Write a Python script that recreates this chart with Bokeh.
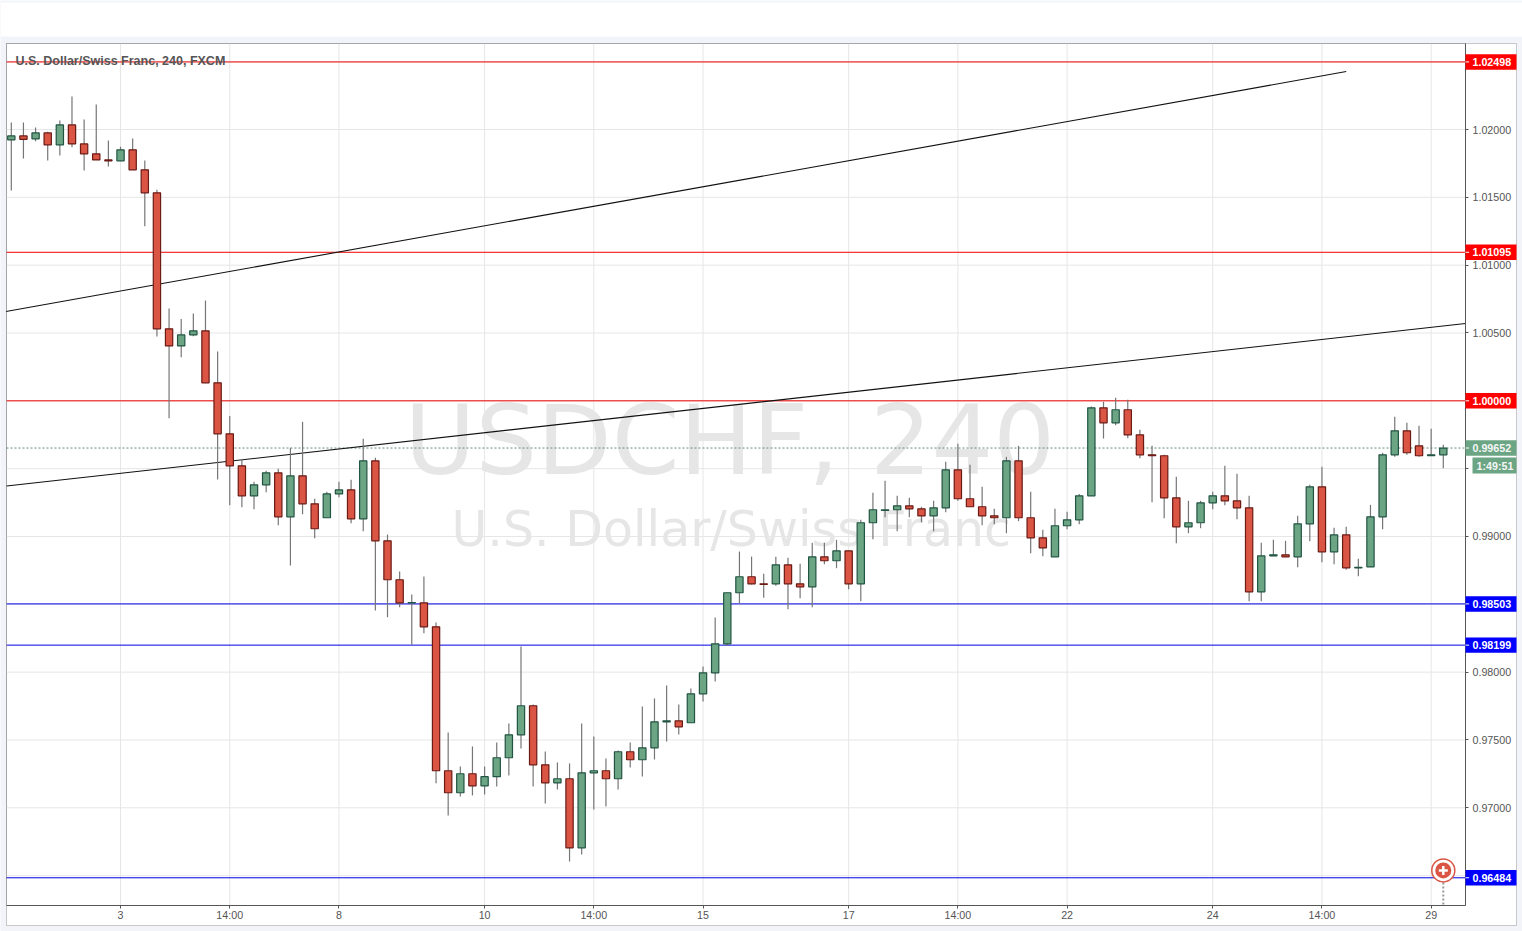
from bokeh.plotting import figure
from bokeh.models import Label, BoxAnnotation, FixedTicker, Range1d
from bokeh.embed import file_html
from bokeh.resources import INLINE

opens = [1.01924,1.01953,1.01931,1.01975,1.01887,1.02034,1.01894,1.01821,1.01776,1.01769,
1.0185,1.01703,1.01533,1.00531,1.00405,1.00486,1.00516,1.00133,0.99757,0.99521,
0.993,0.99381,0.99469,0.99145,0.99447,0.99241,0.99138,0.99314,0.99344,0.9913,
0.99558,0.98968,0.98681,0.98511,0.98511,0.98334,0.97273,0.97111,0.97251,0.97162,
0.97229,0.97369,0.97538,0.97752,0.97317,0.97184,0.97214,0.96705,0.97258,0.97273,
0.97214,0.97413,0.97354,0.97442,0.97634,0.97641,0.97627,0.9784,0.97995,0.98209,
0.98585,0.98703,0.98651,0.98651,0.98791,0.98651,0.98629,0.9885,0.98821,0.98894,
0.98651,0.99101,0.99192,0.99197,0.99226,0.99204,0.99152,0.99211,0.99491,0.99278,
0.99219,0.99152,0.99138,0.99558,0.99138,0.9899,0.9885,0.99079,0.99123,0.993,
0.99948,0.99838,0.99934,0.99749,0.99602,0.99595,0.99285,0.99071,0.99101,0.99248,
0.993,0.99263,0.99211,0.98592,0.98857,0.98865,0.9885,0.99093,0.99366,0.98887,
0.99012,0.98769,0.98776,0.99145,0.99602,0.99779,0.99668,0.99595,0.99602]
highs = [1.02051,1.02051,1.02014,1.01983,1.02066,1.02243,1.02073,1.02184,1.01919,1.01872,
1.01933,1.01771,1.01555,1.0068,1.00604,1.00643,1.00739,1.00363,0.99889,0.99572,
0.99403,0.99484,0.99499,0.99654,0.99845,0.99278,0.99329,0.99403,0.99418,0.9972,
0.9958,0.99014,0.98742,0.98572,0.98705,0.98366,0.97555,0.97304,0.97452,0.97304,
0.97481,0.97621,0.98189,0.97761,0.97415,0.97334,0.97327,0.97621,0.97526,0.97363,
0.97422,0.97481,0.97747,0.97806,0.97901,0.97761,0.97879,0.98042,0.98403,0.98585,
0.98889,0.98852,0.98725,0.9885,0.98843,0.98799,0.98953,0.98953,0.98975,0.98897,
0.99123,0.99322,0.9941,0.993,0.99285,0.99219,0.99263,0.9955,0.99683,0.99528,
0.99366,0.99204,0.99587,0.99668,0.99329,0.99049,0.99204,0.99182,0.99314,0.99958,
0.99993,1.00022,1.00007,0.99786,0.99668,0.99602,0.9944,0.99263,0.99263,0.99329,
0.99521,0.99462,0.993,0.98953,0.98975,0.98968,0.99152,0.99381,0.99514,0.99064,
0.99071,0.98835,0.99233,0.99617,0.99882,0.99838,0.99816,0.99794,0.99676]
lows = [1.0155,1.01786,1.01914,1.01771,1.01808,1.01869,1.01698,1.01776,1.01727,1.01769,
1.01703,1.01287,1.00474,0.99872,1.00321,1.00476,1.00133,0.9942,0.9923,0.99216,
0.99201,0.99326,0.99083,0.98786,0.99164,0.98987,0.99138,0.99289,0.99098,0.99039,
0.98454,0.98405,0.98479,0.98201,0.98287,0.97181,0.96943,0.97083,0.97091,0.97098,
0.97157,0.97238,0.97437,0.97157,0.97032,0.97135,0.96604,0.96656,0.96987,0.9701,
0.97135,0.97297,0.97231,0.97356,0.97489,0.9754,0.97627,0.97784,0.97931,0.98196,
0.98504,0.98646,0.98548,0.98636,0.98464,0.98545,0.98479,0.98796,0.98766,0.98611,
0.98523,0.9898,0.99142,0.99039,0.99142,0.99105,0.99039,0.99179,0.99263,0.99219,
0.99083,0.9909,0.99024,0.99113,0.98877,0.98855,0.9885,0.99054,0.9909,0.993,
0.99722,0.9982,0.99724,0.99577,0.99253,0.99135,0.9895,0.99024,0.99061,0.99201,
0.9923,0.99127,0.98523,0.98523,0.98857,0.9885,0.98773,0.98965,0.9881,0.98796,
0.98754,0.98707,0.98776,0.99054,0.99587,0.99602,0.99587,0.99595,0.99503]
closes = [1.01953,1.01928,1.01975,1.01887,1.02034,1.01894,1.01821,1.01776,1.01769,1.0185,
1.01703,1.01533,1.00531,1.00405,1.00486,1.00516,1.00133,0.99757,0.99521,0.993,
0.99381,0.99469,0.99145,0.99447,0.99241,0.99057,0.99314,0.99344,0.9913,0.99558,
0.98968,0.98681,0.98511,0.98513,0.98334,0.97273,0.97111,0.97251,0.97162,0.97229,
0.97369,0.97538,0.97752,0.97317,0.97184,0.97214,0.96705,0.97258,0.97273,0.97214,
0.97413,0.97354,0.97442,0.97634,0.97641,0.97597,0.9784,0.97995,0.98209,0.98585,
0.98703,0.98651,0.98646,0.98791,0.98651,0.98629,0.9885,0.98821,0.98894,0.98651,
0.99101,0.99197,0.99197,0.99226,0.99204,0.99152,0.99211,0.99491,0.99278,0.99219,
0.99152,0.99138,0.99558,0.99138,0.9899,0.98916,0.99079,0.99123,0.993,0.99948,
0.99838,0.99934,0.99749,0.99602,0.99595,0.99285,0.99071,0.99101,0.99248,0.993,
0.99263,0.99211,0.98592,0.98857,0.98865,0.9885,0.99093,0.99366,0.98887,0.99012,
0.98769,0.98773,0.99145,0.99602,0.99779,0.99617,0.99595,0.99602,0.99652]

x_tick_index = [9, 18, 27, 39, 48, 57, 69, 78, 87, 99, 108, 117]
x_tick_labels = ["3", "14:00", "8", "10", "14:00", "15", "17", "14:00", "22", "24", "14:00", "29"]
y_ticks = [1.025, 1.02, 1.015, 1.01, 1.005, 1.0, 0.995, 0.99, 0.985, 0.98, 0.975, 0.97, 0.965]
y_tick_hidden = [1.025, 1.0, 0.995, 0.985, 0.965]
red_levels = [1.02498, 1.01095, 1.00000]
blue_levels = [0.98503, 0.98199, 0.96484]
level_labels = ["1.02498", "1.01095", "1.00000", "0.98503", "0.98199", "0.96484"]
last_price = 0.99652
last_label = "0.99652"
countdown = "1:49:51"
title_text = "U.S. Dollar/Swiss Franc, 240, FXCM"
wm_big = "USDCHF, 240"
wm_small = "U.S. Dollar/Swiss Franc"
trend1_x = [-0.44, 110.0]
trend1_y = [1.00658, 1.02427]
trend2_x = [-0.4, 119.83]
trend2_y = [0.99372, 1.0057]
marker_x = 118
marker_y = 0.96538

BG = "#f2f4f9"
AX = "#555555"
GRID = "#e6e6e6"
RED_F, RED_L = "#da5543", "#6b1a14"
GRN_F, GRN_L = "#6ba583", "#225443"
FONT = "Liberation Sans"
WM_FONT = "DejaVu Sans"
HALF = 0.00057
PX0, PX1 = -0.396, 119.83     # index range of the price pane
PY0, PY1 = 0.9628, 1.02634    # price range of the price pane

# The plotting frame fills the whole canvas; the pane is a part of it, so the axis panels can be painted.
p = figure(width=1522, height=931, output_backend="svg", toolbar_location=None,
           x_range=Range1d(-0.8904, 124.527), y_range=Range1d(0.96088, 1.02951),
           y_axis_location="right", min_border=0, min_border_left=0, min_border_right=0,
           min_border_top=0, min_border_bottom=0,
           border_fill_color=BG, background_fill_color=BG, outline_line_color=None)
p.grid.visible = False

xa = p.xaxis[0]
xa.ticker = FixedTicker(ticks=x_tick_index)
xa.major_label_overrides = {k: v for k, v in zip(x_tick_index, x_tick_labels)}
xa.fixed_location = PY0
xa.bounds = (PX0, PX1)
ya = p.yaxis[0]
ya.ticker = FixedTicker(ticks=y_ticks)
ya.major_label_overrides = {t: ("" if t in y_tick_hidden else f"{t:.5f}") for t in y_ticks}
ya.fixed_location = PX1
ya.bounds = (PY0, PY1)
for a in (xa, ya):
    a.axis_line_color = AX
    a.major_tick_line_color = AX
    a.minor_tick_line_color = None
    a.major_tick_in = 0
    a.major_tick_out = 3
    a.major_label_text_color = AX
    a.major_label_text_font = FONT
    a.major_label_text_font_size = "10.7px"
xa.major_label_standoff = 1
ya.major_label_standoff = 4

p.add_layout(BoxAnnotation(left=0, right=1522, top=2, bottom=36, left_units="canvas", right_units="canvas",
                           top_units="canvas", bottom_units="canvas", fill_color="white", fill_alpha=1,
                           line_color=None, level="image"))
p.add_layout(BoxAnnotation(left=6, right=1516, top=43, bottom=925, left_units="canvas", right_units="canvas",
                           top_units="canvas", bottom_units="canvas", fill_color="white", fill_alpha=1,
                           line_color=AX, line_width=1, level="image"))

for txt, x, y, size in [(wm_big, 404, 440, "97px"), (wm_small, 451, 529, "49px")]:
    p.add_layout(Label(x=x, y=y, x_units="canvas", y_units="canvas", text=txt, text_color="#e6e6e6",
                       text_font=WM_FONT, text_font_size=size, text_baseline="middle", level="image"))

# Grid inside the pane only
p.segment(x_tick_index, [PY0] * len(x_tick_index), x_tick_index, [PY1] * len(x_tick_index),
          line_color=GRID, line_width=1, level="underlay")
p.segment([PX0] * len(y_ticks), y_ticks, [PX1] * len(y_ticks), y_ticks,
          line_color=GRID, line_width=1, level="underlay")

# Price levels and trend lines
p.segment([PX0] * 3, red_levels, [PX1] * 3, red_levels, line_color="#f00000", line_width=1, level="underlay")
p.segment([PX0] * 3, blue_levels, [PX1] * 3, blue_levels, line_color="#0000e6", line_width=1, level="underlay")
p.segment([PX0], [last_price], [PX1], [last_price], line_color="#5c8f75", line_width=1,
          line_dash="2 2", level="underlay")
p.line(trend1_x, trend1_y, line_color="#111111", line_width=1.1, level="underlay")
p.line(trend2_x, trend2_y, line_color="#111111", line_width=1.1, level="underlay")

# Candles
xs = list(range(len(opens)))
p.segment(xs, highs, xs, lows, line_color="#767676", line_width=1.2)
up = [c >= o for o, c in zip(opens, closes)]
tops = [max(o, c) for o, c in zip(opens, closes)]
bots = [min(o, c) for o, c in zip(opens, closes)]
p.vbar(x=xs, top=tops, bottom=bots, width=0.6,
       fill_color=[GRN_F if u else RED_F for u in up],
       line_color=[GRN_L if u else RED_L for u in up], line_width=1.2)

# Alert marker
p.segment([marker_x], [marker_y], [marker_x], [PY0], line_color="#999999", line_width=2, line_dash="2 2")
p.scatter([marker_x], [marker_y], size=23, fill_color="white", line_color=RED_F, line_width=1.5)
p.scatter([marker_x], [marker_y], size=16, fill_color=RED_F, line_color=None)
p.scatter([marker_x], [marker_y], size=9, marker="cross", line_color="white", line_width=2.5)

p.add_layout(Label(x=15, y=60, x_units="canvas", y_units="canvas", text=title_text, text_color=AX,
                   text_font=FONT, text_font_style="bold", text_font_size="12.5px", text_baseline="middle"))

# Price tags on the axis
levels = red_levels + blue_levels
colors = ["#ff0000"] * 3 + ["#0000ff"] * 3
for lv, txt, col in zip(levels, level_labels, colors):
    p.add_layout(BoxAnnotation(left=1465, right=1516, left_units="canvas", right_units="canvas",
                               top=lv + HALF, bottom=lv - HALF, fill_color=col, fill_alpha=1, line_color=None))
    p.add_layout(Label(x=1472, x_units="canvas", y=lv, y_units="data", text=txt, text_color="white",
                       text_font=FONT, text_font_style="bold", text_font_size="10.7px", text_baseline="middle"))
p.add_layout(BoxAnnotation(left=1465, right=1516, left_units="canvas", right_units="canvas",
                           top=last_price + HALF, bottom=last_price - HALF, fill_color=GRN_F, fill_alpha=1, line_color=None))
p.add_layout(Label(x=1472, x_units="canvas", y=last_price, y_units="data", text=last_label, text_color="#f6f6f6",
                   text_font=FONT, text_font_style="bold", text_font_size="10.7px", text_baseline="middle"))
p.add_layout(BoxAnnotation(left=1472, right=1516, top=457, bottom=473, left_units="canvas", right_units="canvas",
                           top_units="canvas", bottom_units="canvas", fill_color=GRN_F, fill_alpha=1, line_color=None))
p.add_layout(Label(x=1476, y=465, x_units="canvas", y_units="canvas", text=countdown, text_color="#f6f6f6",
                   text_font=FONT, text_font_style="bold", text_font_size="10.7px", text_baseline="middle"))
# Small white ticks on the price tags
tag_levels = levels + [last_price]
p.segment([PX1] * 7, tag_levels, [PX1 + 0.3] * 7, tag_levels, line_color="white", line_width=1, level="overlay")
# Pane border
p.add_layout(BoxAnnotation(left=6, right=1465, top=43, bottom=905, left_units="canvas", right_units="canvas",
                           top_units="canvas", bottom_units="canvas", fill_alpha=0, line_color=AX, line_width=1,
                           level="underlay"))

open("out.html", "w").write(file_html(p, INLINE))
